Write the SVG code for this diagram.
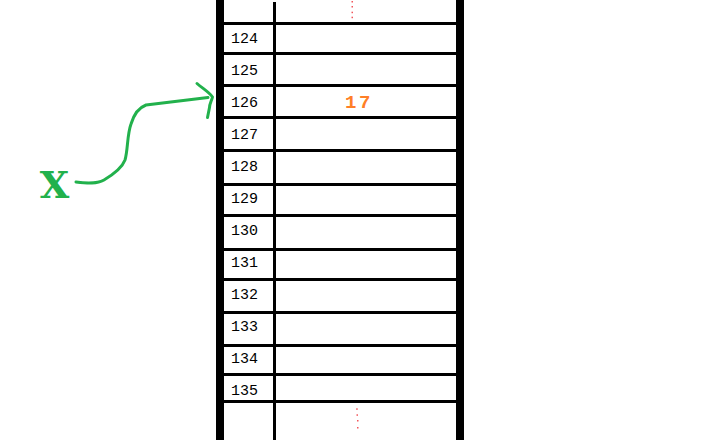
<svg xmlns="http://www.w3.org/2000/svg" width="701" height="440" viewBox="0 0 701 440">
<style>
.bar{fill:#000}
.hl{fill:#000}
.lbl{font-family:"Liberation Mono","DejaVu Sans Mono",monospace;font-size:15px;fill:#000}
.val{font-family:"Liberation Mono","DejaVu Sans Mono",monospace;font-size:19px;font-weight:bold;fill:#FF7F27;letter-spacing:2.5px}
.dot{fill:#ED1C24;opacity:0.75}
.grn{fill:none;stroke:#22B14C;stroke-width:3;stroke-linecap:round;stroke-linejoin:round}
</style>
<rect width="701" height="440" fill="#fff"/>
<g id="memory-frame">
<rect class="bar" x="216" y="0" width="8" height="440"/>
<rect class="bar" x="456" y="0" width="8" height="440"/>
<rect class="bar" x="273" y="2" width="3" height="438"/>
<rect class="hl" x="224" y="22" width="232" height="3"/>
<rect class="hl" x="224" y="52" width="232" height="3"/>
<rect class="hl" x="224" y="84" width="232" height="3"/>
<rect class="hl" x="224" y="116" width="232" height="3"/>
<rect class="hl" x="224" y="149" width="232" height="3"/>
<rect class="hl" x="224" y="183" width="232" height="3"/>
<rect class="hl" x="224" y="214" width="232" height="3"/>
<rect class="hl" x="224" y="248" width="232" height="3"/>
<rect class="hl" x="224" y="278" width="232" height="3"/>
<rect class="hl" x="224" y="311" width="232" height="3"/>
<rect class="hl" x="224" y="344" width="232" height="3"/>
<rect class="hl" x="224" y="373" width="232" height="3"/>
<rect class="hl" x="224" y="400" width="232" height="3"/>
</g>
<g id="ellipsis-top">
<rect class="dot" x="351.5" y="1" width="1.5" height="1.5"/>
<rect class="dot" x="351.5" y="6" width="1.5" height="1.5"/>
<rect class="dot" x="351.5" y="11.7" width="1.5" height="1.5"/>
<rect class="dot" x="351.5" y="16.7" width="1.5" height="1.5"/>
</g>
<g id="cell-124"><text class="lbl" x="231" y="43.3">124</text></g>
<g id="cell-125"><text class="lbl" x="231" y="75.3">125</text></g>
<g id="cell-126"><text class="lbl" x="231" y="107.3">126</text><text class="val" x="345" y="108.3">17</text></g>
<g id="cell-127"><text class="lbl" x="231" y="139.3">127</text></g>
<g id="cell-128"><text class="lbl" x="231" y="171.3">128</text></g>
<g id="cell-129"><text class="lbl" x="231" y="203.3">129</text></g>
<g id="cell-130"><text class="lbl" x="231" y="235.3">130</text></g>
<g id="cell-131"><text class="lbl" x="231" y="267.3">131</text></g>
<g id="cell-132"><text class="lbl" x="231" y="299.3">132</text></g>
<g id="cell-133"><text class="lbl" x="231" y="331.3">133</text></g>
<g id="cell-134"><text class="lbl" x="231" y="363.3">134</text></g>
<g id="cell-135"><text class="lbl" x="231" y="395.3">135</text></g>
<g id="ellipsis-bottom">
<rect class="dot" x="356.2" y="408.3" width="1.5" height="1.5"/>
<rect class="dot" x="356.5" y="414.3" width="1.5" height="1.5"/>
<rect class="dot" x="357" y="420" width="1.5" height="1.5"/>
<rect class="dot" x="357" y="427" width="1.5" height="1.5"/>
</g>
<g id="var-x"><text x="54.5" y="197.5" text-anchor="middle" font-family="'DejaVu Serif','Liberation Serif',serif" font-weight="bold" font-size="38" fill="#22B14C">X</text></g>
<g id="connectors">
<path class="grn" d="M76,182 C88,183.5 97,184 104,180 C114,174 122,168 125,160 C128,150 127,135 131,124 C134,114 138,108 146,105 L208,97.5"/>
<path class="grn" d="M197,83.5 C202,88 209,92 212.5,97 C211.5,101 209.5,104 209.5,107.5 L207.5,117.5"/>
</g>
</svg>
